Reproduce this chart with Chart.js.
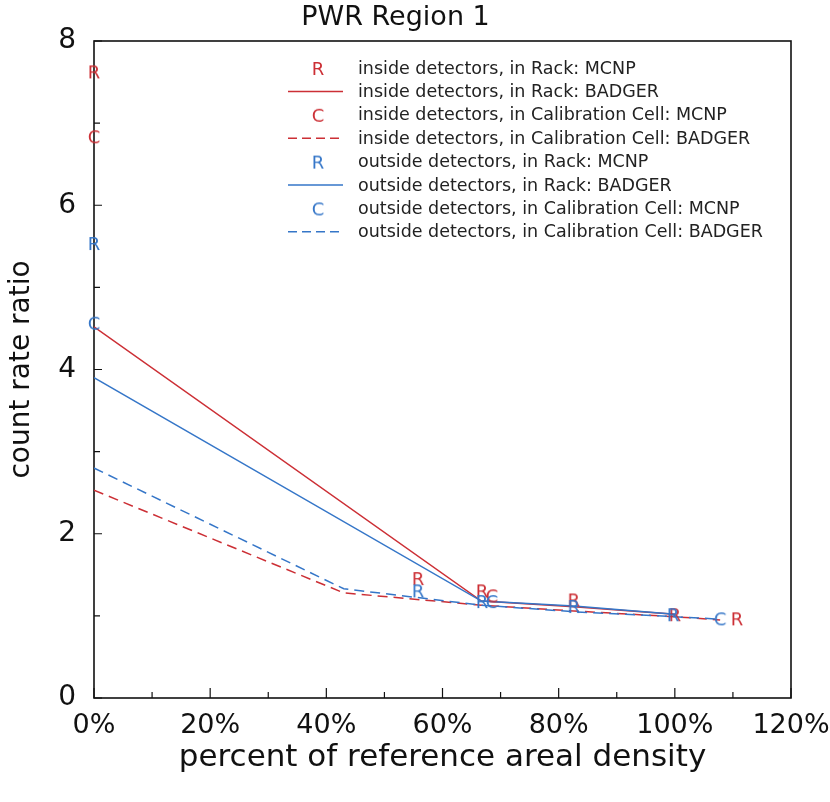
<!DOCTYPE html>
<html>
<head>
<meta charset="utf-8">
<script src="https://cdn.jsdelivr.net/npm/chart.js@4"></script>
<style>
  html, body { margin: 0; padding: 0; background: #fff; }
  #wrap { width: 830px; height: 802px; }
</style>
</head>
<body>
<div id="wrap"><canvas id="c"></canvas></div>
<script>
// ---- data ----
const chartTitle = 'PWR Region 1';
const xAxisTitle = 'percent of reference areal density';
const yAxisTitle = 'count rate ratio';
const xTickLabels = [0, 20, 40, 60, 80, 100, 120];   // percent
const yTickLabels = [0, 2, 4, 6, 8];

// MCNP results (plotted as letters)
const inRackMcnpX  = [0, 55.8, 66.8, 82.6, 100, 110.7];
const inRackMcnpY  = [7.63, 1.46, 1.31, 1.20, 1.02, 0.97];
const inCalMcnpX   = [0, 68.5];
const inCalMcnpY   = [6.84, 1.25];
const outRackMcnpX = [0, 55.8, 66.8, 82.6, 99.7];
const outRackMcnpY = [5.54, 1.31, 1.18, 1.12, 1.02];
const outCalMcnpX  = [0, 68.5, 107.8];
const outCalMcnpY  = [4.57, 1.18, 0.97];

// BADGER results (plotted as lines)
const rackBadgerX   = [0, 66.7, 82.6, 100];
const inRackBadger  = [4.52, 1.18, 1.11, 1.02];
const outRackBadger = [3.90, 1.18, 1.12, 1.02];
const calBadgerX    = [0, 43, 66.7, 82.6, 100, 107.8];
const inCalBadger   = [2.53, 1.28, 1.13, 1.06, 0.99, 0.95];
const outCalBadger  = [2.80, 1.33, 1.13, 1.05, 0.99, 0.96];

const seriesLabels = [
  'inside detectors, in Rack: MCNP',
  'inside detectors, in Rack: BADGER',
  'inside detectors, in Calibration Cell: MCNP',
  'inside detectors, in Calibration Cell: BADGER',
  'outside detectors, in Rack: MCNP',
  'outside detectors, in Rack: BADGER',
  'outside detectors, in Calibration Cell: MCNP',
  'outside detectors, in Calibration Cell: BADGER'
];

// ---- styles ----
const RED = '#cc2f35';
const BLUE = '#3576c8';
const FONT = '"DejaVu Sans", "Liberation Sans", sans-serif';
const DASH = [10, 6];

function pts(xs, ys) { return xs.map((x, i) => ({ x: x, y: ys[i] })); }

// a letter drawn into a small canvas, used as a point style
function glyph(letter, color) {
  const c = document.createElement('canvas');
  c.width = 24; c.height = 24;
  const g = c.getContext('2d');
  g.fillStyle = color;
  g.font = '18px ' + FONT;
  g.textAlign = 'center';
  g.textBaseline = 'alphabetic';
  g.fillText(letter, 12, 12 + 6.5);
  return c;
}

function markerSet(label, xs, ys, letter, color, order) {
  return {
    label: label, data: pts(xs, ys), showLine: false,
    pointStyle: glyph(letter, color), pointRadius: 6, pointHoverRadius: 6,
    borderColor: color, backgroundColor: color, clip: false, order: order,
    marker: letter
  };
}
function lineSet(label, xs, ys, color, dash, order) {
  return {
    label: label, data: pts(xs, ys), showLine: true, pointRadius: 0, pointHoverRadius: 0,
    borderColor: color, backgroundColor: color, borderWidth: 1.5, borderDash: dash,
    tension: 0, order: order
  };
}

const datasets = [
  markerSet(seriesLabels[0], inRackMcnpX, inRackMcnpY, 'R', RED, 4),
  lineSet(seriesLabels[1], rackBadgerX, inRackBadger, RED, [], 6),
  markerSet(seriesLabels[2], inCalMcnpX, inCalMcnpY, 'C', RED, 4),
  lineSet(seriesLabels[3], calBadgerX, inCalBadger, RED, DASH, 6),
  markerSet(seriesLabels[4], outRackMcnpX, outRackMcnpY, 'R', BLUE, 3),
  lineSet(seriesLabels[5], rackBadgerX, outRackBadger, BLUE, [], 5),
  markerSet(seriesLabels[6], outCalMcnpX, outCalMcnpY, 'C', BLUE, 3),
  lineSet(seriesLabels[7], calBadgerX, outCalBadger, BLUE, DASH, 5)
];

// box frame and inward tick marks
const framePlugin = {
  id: 'frame',
  beforeDatasetsDraw(chart) {
    const { ctx, chartArea: a, scales: { x, y } } = chart;
    ctx.save();
    ctx.strokeStyle = '#111';
    ctx.lineWidth = 1.6;
    ctx.strokeRect(a.left, a.top, a.right - a.left, a.bottom - a.top);
    ctx.lineWidth = 1.2;
    ctx.beginPath();
    x.ticks.forEach(t => {
      const px = x.getPixelForValue(t.value);
      const len = xTickLabels.includes(t.value) ? 10 : 6;
      ctx.moveTo(px, a.bottom); ctx.lineTo(px, a.bottom - len);
    });
    y.ticks.forEach(t => {
      const py = y.getPixelForValue(t.value);
      const len = yTickLabels.includes(t.value) ? 8 : 6;
      ctx.moveTo(a.left, py); ctx.lineTo(a.left + len, py);
    });
    ctx.stroke();
    ctx.restore();
  }
};

// legend box inside the plot
const legendPlugin = {
  id: 'insideLegend',
  afterDraw(chart) {
    const ctx = chart.ctx;
    const x0 = 318, lineL = 288, lineR = 343, textX = 358, y0 = 68, dy = 23.4;
    ctx.save();
    chart.data.datasets.forEach((ds, i) => {
      const yy = y0 + i * dy;
      if (ds.showLine) {
        ctx.strokeStyle = ds.borderColor;
        ctx.lineWidth = 1.5;
        ctx.setLineDash(ds.borderDash && ds.borderDash.length ? [9, 5] : []);
        ctx.beginPath(); ctx.moveTo(lineL, yy); ctx.lineTo(lineR, yy); ctx.stroke();
        ctx.setLineDash([]);
      } else {
        ctx.drawImage(ds.pointStyle, x0 - 12, yy - 12);
      }
      ctx.fillStyle = '#222';
      ctx.font = '17.5px ' + FONT;
      ctx.textAlign = 'left';
      ctx.textBaseline = 'middle';
      ctx.fillText(ds.label, textX, yy + 1);
    });
    ctx.restore();
  }
};

new Chart(document.getElementById('c'), {
  type: 'scatter',
  data: { datasets: datasets },
  plugins: [framePlugin, legendPlugin],
  options: {
    responsive: true,
    maintainAspectRatio: false,
    animation: false,
    layout: { padding: { left: 0, right: 39, top: 0, bottom: 0 } },
    plugins: {
      legend: { display: false },
      tooltip: { enabled: false },
      title: {
        display: true, text: chartTitle, color: '#111',
        font: { family: FONT, size: 27, weight: 'normal' },
        padding: { top: 2, bottom: 6.6 }
      }
    },
    scales: {
      x: {
        type: 'linear', min: 0, max: 120,
        grid: { display: false },
        border: { display: false },
        ticks: {
          stepSize: 10, autoSkip: false, maxRotation: 0, padding: 4, color: '#111',
          font: { family: FONT, size: 27 },
          callback: v => xTickLabels.includes(v) ? v + '%' : ''
        },
        title: {
          display: true, text: xAxisTitle, color: '#111',
          font: { family: FONT, size: 31 },
          padding: { top: 0, bottom: 25 }
        },
        afterFit: s => { s.height = 104; s.paddingLeft = 0; s.paddingRight = 0; }
      },
      y: {
        type: 'linear', min: 0, max: 8,
        grid: { display: false },
        border: { display: false },
        ticks: {
          stepSize: 1, autoSkip: false, padding: 10, color: '#111',
          font: { family: FONT, size: 28 },
          callback: v => yTickLabels.includes(v) ? String(v) : ''
        },
        title: {
          display: true, text: yAxisTitle, color: '#111',
          font: { family: FONT, size: 28 },
          padding: { top: 5, bottom: 0 }
        },
        afterFit: s => { s.width = 94; s.paddingTop = 0; s.paddingBottom = 0; }
      }
    }
  }
});
</script>
</body>
</html>
